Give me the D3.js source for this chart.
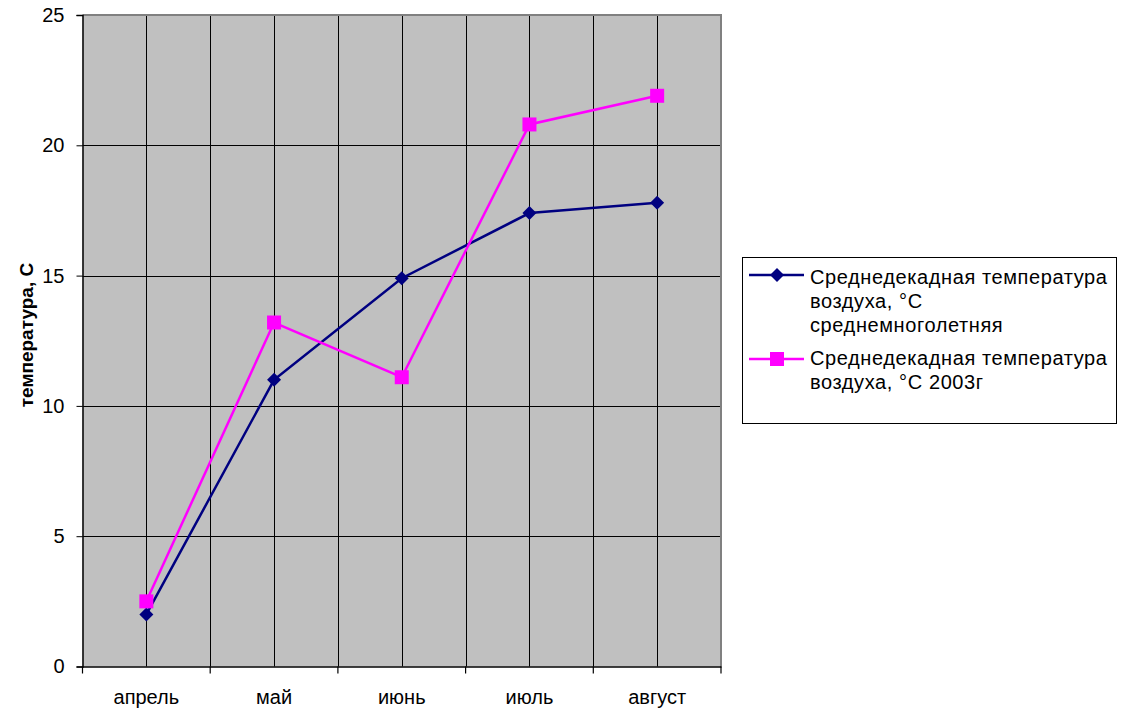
<!DOCTYPE html>
<html><head><meta charset="utf-8">
<script src="https://cdn.jsdelivr.net/npm/d3@7"></script>
<style>body{margin:0;background:#fff}svg{display:block;font-family:Arial,"Liberation Sans",sans-serif}</style>
</head><body><svg id="c" width="1124" height="715"></svg>
<script>
const categories = ["апрель","май","июнь","июль","август"];
const seriesNames = ["Среднедекадная температура воздуха, °С среднемноголетняя","Среднедекадная температура воздуха, °С 2003г"];
const avgValues = [2.0, 11.0, 14.9, 17.4, 17.8];
const y2003Values = [2.5, 13.2, 11.1, 20.8, 21.9];
const yTicks = [0,5,10,15,20,25];
const legendLines = [["Среднедекадная температура","воздуха, °С","среднемноголетняя"],["Среднедекадная температура","воздуха, °С 2003г"]];

const svg = d3.select("#c");
const L=82.5, R=721, T=15, B=666.5;
const x = d3.scaleBand().domain(categories).range([L,R]);
const y = d3.scaleLinear().domain([0,25]).range([B,T]);

svg.append("rect").attr("x",L).attr("y",T).attr("width",R-L).attr("height",B-T).attr("fill","#c0c0c0");
svg.append("g").selectAll("line").data(yTicks.filter(d=>d>0&&d<25)).join("line")
  .attr("x1",L).attr("x2",R).attr("y1",d=>Math.round(y(d))+0.5).attr("y2",d=>Math.round(y(d))+0.5).attr("stroke","#000").attr("stroke-width",1);
const vx = [];
categories.forEach((c,i)=>{vx.push(x(c)+x.bandwidth()/2); if(i>0) vx.push(x(c));});
svg.append("g").selectAll("line").data(vx).join("line")
  .attr("x1",d=>Math.round(d)+0.5).attr("x2",d=>Math.round(d)+0.5).attr("y1",T).attr("y2",B).attr("stroke","#000").attr("stroke-width",1);
svg.append("path").attr("d",`M${L},${T}H${R}V${B}`).attr("fill","none").attr("stroke","#808080").attr("stroke-width",2);

const ya = svg.append("g").attr("transform",`translate(${L},0)`)
  .call(d3.axisLeft(y).tickValues(yTicks).tickSize(6).tickPadding(12));
ya.select(".domain").attr("stroke","#000").attr("stroke-width",1.5);
ya.selectAll("text").attr("font-size",20).attr("font-family","Arial, 'Liberation Sans', sans-serif").attr("fill","#000");
const xa = svg.append("g").attr("transform",`translate(0,${B})`)
  .call(d3.axisBottom(x).tickSize(0).tickPadding(23));
xa.select(".domain").attr("stroke","#000").attr("stroke-width",1.5);
xa.selectAll("text").attr("font-size",20).attr("font-family","Arial, 'Liberation Sans', sans-serif").attr("fill","#000");
const bounds = categories.map(c=>x(c)).concat([R]);
svg.append("g").selectAll("line").data(bounds).join("line")
  .attr("x1",d=>d).attr("x2",d=>d).attr("y1",B).attr("y2",B+7).attr("stroke","#000").attr("stroke-width",1.2);

svg.append("text").attr("transform",`translate(33,335) rotate(-90)`).attr("text-anchor","middle")
  .attr("font-size",19).attr("font-weight","bold").text("температура, С");

const cx = c=>x(c)+x.bandwidth()/2;
const line = d3.line().x((d,i)=>cx(categories[i])).y(d=>y(d));
svg.append("path").datum(avgValues).attr("d",line).attr("fill","none").attr("stroke","#000080").attr("stroke-width",2.5);
svg.append("path").datum(y2003Values).attr("d",line).attr("fill","none").attr("stroke","#ff00ff").attr("stroke-width",2.5);
const diamond = (s)=>`M0,${-s}L${s},0L0,${s}L${-s},0Z`;
svg.append("g").selectAll("path").data(avgValues).join("path")
  .attr("transform",(d,i)=>`translate(${cx(categories[i])},${y(d)})`).attr("d",diamond(7)).attr("fill","#000080");
svg.append("g").selectAll("rect").data(y2003Values).join("rect")
  .attr("x",(d,i)=>cx(categories[i])-7).attr("y",d=>y(d)-7).attr("width",14).attr("height",14).attr("fill","#ff00ff");

const lg = svg.append("g");
lg.append("rect").attr("x",742.5).attr("y",257.5).attr("width",374).attr("height",166).attr("fill","#fff").attr("stroke","#000").attr("stroke-width",1);
const colors=["#000080","#ff00ff"];
const ys=[275,359];
const baselines=[[284,308,332],[365,389]];
legendLines.forEach((lines,k)=>{
  lg.append("line").attr("x1",749).attr("x2",804).attr("y1",ys[k]).attr("y2",ys[k]).attr("stroke",colors[k]).attr("stroke-width",2.5);
  if(k===0) lg.append("path").attr("transform",`translate(777,${ys[k]})`).attr("d",diamond(7)).attr("fill",colors[k]);
  else lg.append("rect").attr("x",770).attr("y",ys[k]-7).attr("width",14).attr("height",14).attr("fill",colors[k]);
  lines.forEach((t,j)=>lg.append("text").attr("x",810).attr("y",baselines[k][j]).attr("font-size",20).attr("letter-spacing","0.6px").text(t));
});
</script></body></html>
